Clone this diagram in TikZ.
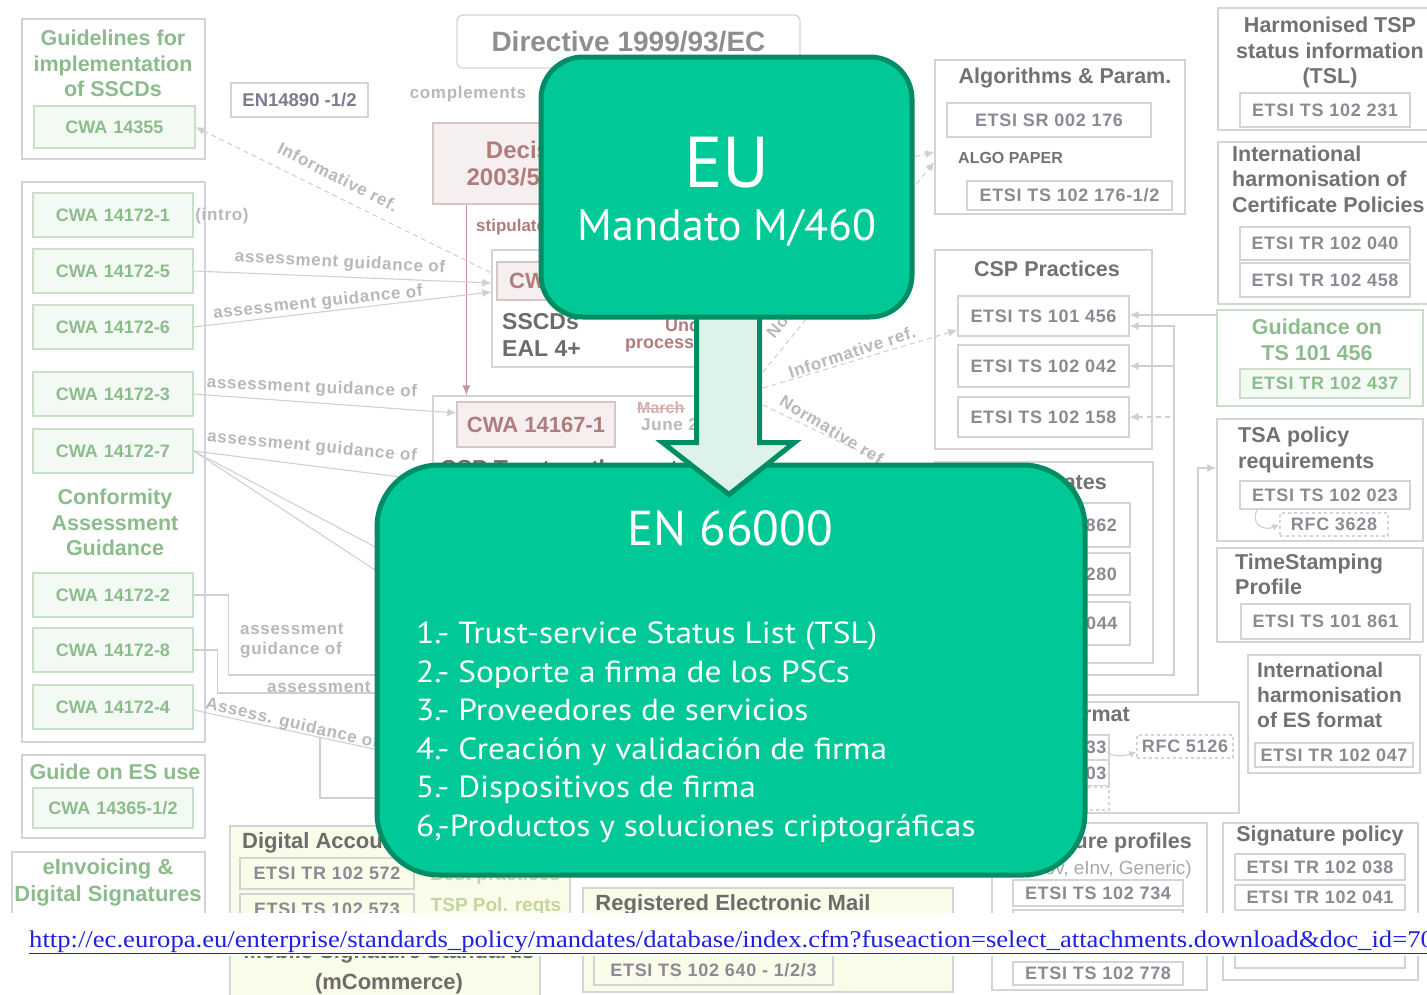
\documentclass[tikz,border=0pt]{standalone}
\usepackage{fontspec}
\usepackage{graphicx}
\setmainfont{Liberation Sans}
\newfontfamily\etsifont[LetterSpace=4]{Liberation Sans}
\newfontfamily\ovfont{PT Sans}
\newfontfamily\urlfont{Liberation Serif}
\usetikzlibrary{arrows.meta,calc}
\newcommand\fsz[2]{\fontsize{#1}{#2}\selectfont}
\newcommand\cw{CWA\hspace{6pt}}
\newcommand\wide[1]{\scalebox{1.095}[1]{#1}}

\definecolor{boxline}{HTML}{D4D4D4}
\definecolor{linkline}{HTML}{D0D0D0}
\definecolor{darktxt}{HTML}{6C6C6C}
\definecolor{ttltxt}{HTML}{727272}
\definecolor{txtmid}{HTML}{8A8A94}
\definecolor{txtlight}{HTML}{B8B8B8}
\definecolor{sptxt}{HTML}{A8A8A8}
\definecolor{dirtxt}{HTML}{8E8E8E}
\definecolor{enblue}{HTML}{7C7C90}
\definecolor{grntxt}{HTML}{8CBC8C}
\definecolor{grnline}{HTML}{C9DFC9}
\definecolor{grnfill}{HTML}{F3FAF3}
\definecolor{redtxt}{HTML}{B27C7C}
\definecolor{redbox}{HTML}{D8C6C6}
\definecolor{redfill}{HTML}{F5EFEF}
\definecolor{redln}{HTML}{C8959A}
\definecolor{strktxt}{HTML}{D4AFAF}
\definecolor{olvtxt}{HTML}{C4D6A0}
\definecolor{yelfill}{HTML}{FBFBE9}
\definecolor{euFill}{HTML}{00C896}
\definecolor{euEdge}{HTML}{008C64}
\definecolor{arrowFill}{HTML}{DDF2E8}
\definecolor{urlblue}{HTML}{2020E0}

\pgfdeclarelayer{mid}
\pgfdeclarelayer{top}
\pgfsetlayers{main,mid,top}

\begin{document}
\begin{tikzpicture}[x=1pt,y=-1pt,
  grp/.style={draw=boxline, line width=1.3pt, fill=white, inner sep=0pt},
  etsi/.style={draw=boxline, line width=1.2pt, fill=white, inner sep=0pt, text=txtmid, font=\etsifont\bfseries\fsz{18}{20}},
  cwabox/.style={draw=grnline, line width=1.3pt, fill=grnfill, inner sep=0pt, text=grntxt, font=\bfseries\fsz{18}{20}, minimum width=160pt, minimum height=44pt},
  ttl/.style={text=ttltxt, font=\bfseries\fsz{21.5}{25.5}, inner sep=0pt},
  gttl/.style={text=grntxt, font=\bfseries\fsz{21.5}{25.5}, inner sep=0pt, align=center},
  note/.style={text=txtlight, font=\etsifont\bfseries\fsz{17}{20}, inner sep=0pt},
  rtxt/.style={text=redtxt, inner sep=0pt},
  dtxt/.style={text=darktxt, inner sep=0pt},
  olv/.style={text=olvtxt, font=\bfseries\fsz{19}{22}, inner sep=0pt},
  lnk/.style={draw=linkline, line width=1.1pt},
  dlnk/.style={lnk, dash pattern=on 5pt off 4pt},
  endtip/.style={-{Latex[length=9pt,width=8pt]}},
  starttip/.style={{Latex[length=9pt,width=8pt]}-},
  ovbox/.style={draw=euEdge, line width=5pt, fill=euFill, inner sep=0pt},
  ovtxt/.style={text=white, inner sep=0pt},
  listline/.style={ovtxt, anchor=base west, font=\ovfont\fsz{30.5}{36}}
]
\useasboundingbox (0,0) rectangle (1427,994);
\clip (0,0) rectangle (1427,994);

% ---------- left column: CEN workshop agreements ----------
\node[grp, minimum width=183pt, minimum height=140pt] (gSSCD) at (113.5,89) {};
\node[gttl] (tSSCD) at (113,63.5) {Guidelines for\\implementation\\of SSCDs};
\node[cwabox, minimum width=161pt, minimum height=42pt] (cwa14355) at (114.5,127) {\cw 14355};

\node[grp, minimum width=183pt, minimum height=560pt] (gCWA) at (113.5,462) {};
\node[cwabox] (c1) at (113,215) {\cw 14172-1};
\node[cwabox] (c5) at (113,271) {\cw 14172-5};
\node[cwabox] (c6) at (113,327) {\cw 14172-6};
\node[cwabox] (c3) at (113,394) {\cw 14172-3};
\node[cwabox] (c7) at (113,451) {\cw 14172-7};
\node[gttl] (tConf) at (115,522.5) {Conformity\\Assessment\\Guidance};
\node[cwabox] (c2) at (113,595) {\cw 14172-2};
\node[cwabox] (c8) at (113,650) {\cw 14172-8};
\node[cwabox] (c4) at (113,707) {\cw 14172-4};
\node[note] (intro) at (222,216) {(intro)};

\node[grp, minimum width=183pt, minimum height=83pt] (gGuide) at (113.5,796.5) {};
\node[gttl] (tGuide) at (115,772) {Guide on ES use};
\node[cwabox, minimum height=40pt] (cwa14365) at (113,808) {\cw 14365-1/2};

\node[grp, minimum width=193pt, minimum height=90pt] (gInv) at (108.5,897) {};
\node[gttl, font=\bfseries\fsz{22}{27}] (tInv) at (108,882.5) {eInvoicing \&\\Digital Signatures};

% ---------- top middle: directive and decision ----------
\node[etsi, text=enblue, font=\bfseries\fsz{18.5}{20}, minimum width=137pt, minimum height=34pt] (en14890) at (299.5,100) {EN14890 -1/2};
\node[note] (compl) at (468,94) {complements};
\node[grp, rounded corners=6pt, minimum width=343pt, minimum height=53pt, text=dirtxt, font=\bfseries\fsz{28}{30}] (directive) at (628.5,41.5) {Directive 1999/93/EC};

\node[grp, fill=redfill, draw=redbox, minimum width=227pt, minimum height=81pt] (decision) at (546.5,163.5) {};
\node[rtxt, align=center, font=\bfseries\fsz{24}{27}] (tDec) at (536,163.5) {Decision\\2003/511/EC};
\node[rtxt, anchor=west, font=\bfseries\fsz{17}{20}] (stip) at (476,227) {stipulates};

\node[grp, minimum width=248pt, minimum height=117pt] (gEAL) at (616,308.5) {};
\node[grp, fill=redfill, draw=redbox, minimum width=143pt, minimum height=38pt, text=redtxt, font=\bfseries\fsz{22}{24}] (cwa14169) at (568.5,281) {CWA 14169};
\node[dtxt, anchor=west, align=left, font=\bfseries\fsz{23}{27}] (tEAL) at (502,334.5) {SSCDs\\EAL 4+};
\node[rtxt, anchor=west, font=\bfseries\fsz{18}{20}] (tUnder) at (665,325) {Under};
\node[rtxt, anchor=west, font=\bfseries\fsz{18}{20}] (tProc) at (625,346) {process};

\node[grp, minimum width=307pt, minimum height=124pt] (g14167) at (586.5,458) {};
\node[grp, fill=redfill, draw=redbox, minimum width=158pt, minimum height=45pt, text=redtxt, font=\bfseries\fsz{22}{24}] (cwa14167) at (536,424.5) {CWA 14167-1};
\node[anchor=west, inner sep=0pt, text=strktxt, font=\bfseries\fsz{16}{18}] (tMarch) at (637,408) {March};
\draw[strktxt, line width=1pt] (tMarch.west) -- (tMarch.east);
\node[note, anchor=west] (tJune) at (641,425) {June 2};
\node[dtxt, anchor=west, font=\bfseries\fsz{23}{26}] (tCSPts) at (440,471) {CSP Trustworthy systems};

\draw[draw=redln, line width=1.2pt, -{Latex[length=10pt,width=8pt]}] ([xshift=34pt]decision.south west) -- ([xshift=34pt]g14167.north west);

% ---------- links from the CWA column ----------
\draw[dlnk, starttip] (cwa14355.east) -- (gEAL.west |- 0,273);
\node[note, rotate=-27] (lInf1) at (338,177) {Informative ref.};
\draw[lnk, endtip] (c5.east) -- (gEAL.west |- 0,283);
\node[note, rotate=-3] (l5) at (340,263) {assessment guidance of};
\draw[lnk, endtip] (c6.east) -- (gEAL.west |- 0,292);
\node[note, rotate=6] (l6) at (318,303) {assessment guidance of};
\draw[lnk, endtip] (c3.east) -- (cwa14167.west |- 0,413);
\node[note, rotate=-2.5] (l3) at (312,388) {assessment guidance of};
\draw[lnk] (c7.east) -- (g14167.west |- 0,481);
\node[note, rotate=-5.5] (l7) at (312,447) {assessment guidance of};
\coordinate (fanA) at (430,576);
\coordinate (fanB) at (430,606);
\draw[lnk] (c7.east) -- (fanA);
\draw[lnk] (c7.east) -- (fanB);
\coordinate (c2end) at (420,675);
\draw[lnk] (c2.east) -- ++(35,0) |- (c2end);
\node[note, align=left, anchor=west] (l2) at (240,640.5) {assessment\\guidance of};
\coordinate (c8end) at (420,693);
\draw[lnk] (c8.east) -- ++(24,0) |- (c8end);
\node[note, anchor=west] (l8) at (267,687) {assessment};
\coordinate (a4end) at (420,759);
\coordinate (a4knee) at (320,738);
\coordinate (a4end2) at (420,798);
\draw[lnk] ([yshift=-3pt]c4.east) -- (a4end);
\draw[lnk] (a4knee) |- (a4end2);
\node[note, rotate=-13] (l4) at (292,724) {Assess. guidance of};

% ---------- middle right: ETSI groups ----------
\node[grp, minimum width=250pt, minimum height=154pt] (gAlgo) at (1060,137) {};
\node[ttl] (tAlgo) at (1065,78) {Algorithms \& Param.};
\node[etsi, minimum width=204pt, minimum height=34pt] (sr002176) at (1049,120) {ETSI SR 002 176};
\node[ttl, anchor=west, font=\bfseries\fsz{16}{18}] (tAlgoP) at (958,158) {ALGO PAPER};
\node[etsi, minimum width=205pt, minimum height=29pt] (ts102176) at (1069.5,195.5) {ETSI TS 102 176-1/2};

\node[grp, minimum width=217pt, minimum height=199pt] (gCSP) at (1043.5,349.5) {};
\node[ttl] (tCSP) at (1047,269) {CSP Practices};
\node[etsi, minimum width=171pt, minimum height=40pt] (ts101456) at (1043.5,316) {ETSI TS 101 456};
\node[etsi, minimum width=171pt, minimum height=42pt] (ts102042) at (1043.5,366) {ETSI TS 102 042};
\node[etsi, minimum width=171pt, minimum height=40pt] (ts102158) at (1043.5,417) {ETSI TS 102 158};

\node[grp, minimum width=218pt, minimum height=201pt] (gCert) at (1044,562.5) {};
\node[ttl, anchor=east] (tCert) at (1107,482) {Certificates};
\node[etsi, minimum width=172pt, minimum height=44pt] (ts101862) at (1044,525) {ETSI TS 101 862};
\node[etsi, minimum width=172pt, minimum height=42pt] (ts102280) at (1044,574) {ETSI TS 102 280};
\node[etsi, minimum width=172pt, minimum height=43pt] (tr102044) at (1044,623.5) {ETSI TR 102 044};

\node[grp, minimum width=304pt, minimum height=111pt] (gFmt) at (1087,757.5) {};
\node[ttl, anchor=east] (tFmt) at (1130,716) {Signature format};
\node[etsi, minimum width=151pt, minimum height=25pt] (ts101733) at (1033.5,747.5) {ETSI TS 101 733};
\node[etsi, minimum width=151pt, minimum height=25pt] (ts101903) at (1033.5,773) {ETSI TS 101 903};
\node[etsi, dashed, minimum width=151pt, minimum height=23pt] (fmtx) at (1033.5,798.5) {};
\node[etsi, dashed, minimum width=96pt, minimum height=23pt] (rfc5126) at (1185,746.5) {RFC 5126};
\draw[lnk, -{Latex[length=7pt,width=7pt]}] ([yshift=-4pt]ts101733.east) .. controls (1103,752) and (1116,759) .. (rfc5126.west |- 0,752);

\node[grp, minimum width=215pt, minimum height=167pt] (gSP) at (1099.5,906.5) {};
\node[ttl, anchor=east] (tSP) at (1192,843) {Signature profiles};
\node[inner sep=0pt, text=sptxt, font=\fsz{19}{22}, anchor=east] (tSPsub) at (1192,870) {(Gov, eInv, Generic)};
\node[etsi, minimum width=170pt, minimum height=26pt] (ts102734) at (1098,893) {ETSI TS 102 734};
\node[etsi, minimum width=170pt, minimum height=30pt] (spx) at (1098,925) {};
\node[etsi, minimum width=170pt, minimum height=23pt] (ts102778) at (1098,973.5) {ETSI TS 102 778};

% ---------- right column ----------
\node[grp, minimum width=222pt, minimum height=122pt] (gTSL) at (1329,69) {};
\node[ttl, align=center] (tTSL) at (1330,52.5) {Harmonised TSP\\status information\\(TSL)};
\node[etsi, minimum width=170pt, minimum height=34pt] (ts102231) at (1325,110) {ETSI TS 102 231};

\node[grp, minimum width=222pt, minimum height=162pt] (gICP) at (1329,223) {};
\node[ttl, align=left, anchor=west] (tICP) at (1232,179) {International\\harmonisation of\\Certificate Policies};
\node[etsi, minimum width=170pt, minimum height=33pt] (tr102040) at (1325,243.5) {ETSI TR 102 040};
\node[etsi, minimum width=170pt, minimum height=34pt] (tr102458) at (1325,280) {ETSI TR 102 458};

\node[grp, draw=grnline, minimum width=206pt, minimum height=96pt] (gGuid) at (1320,358) {};
\node[gttl] (tGuid) at (1317,340) {Guidance on\\TS 101 456};
\node[etsi, draw=grnline, fill=grnfill, text=grntxt, minimum width=170pt, minimum height=29pt] (tr102437) at (1325,383.5) {ETSI TR 102 437};

\node[grp, minimum width=206pt, minimum height=122pt] (gTSA) at (1320,480) {};
\node[ttl, align=left, anchor=west] (tTSA) at (1238,450) {TSA policy\\requirements};
\node[etsi, minimum width=170pt, minimum height=28pt] (ts102023) at (1325,495) {ETSI TS 102 023};
\node[etsi, dashed, minimum width=108pt, minimum height=23pt] (rfc3628) at (1334,524.5) {RFC 3628};
\draw[lnk, -{Latex[length=7pt,width=7pt]}] ([xshift=18pt]ts102023.south west) .. controls (1250,522) and (1262,532) .. (rfc3628.west);

\node[grp, minimum width=206pt, minimum height=94pt] (gTS) at (1320,595) {};
\node[ttl, align=left, anchor=west] (tTS) at (1235,574.5) {TimeStamping\\Profile};
\node[etsi, minimum width=169pt, minimum height=35pt] (ts101861) at (1325.5,621.5) {ETSI TS 101 861};

\node[grp, minimum width=172pt, minimum height=118pt] (gESF) at (1334,714) {};
\node[ttl, align=left, anchor=west, font=\bfseries\fsz{21}{25}] (tESF) at (1257,695) {International\\harmonisation\\of ES format};
\node[etsi, minimum width=158pt, minimum height=24pt] (tr102047) at (1334,755) {ETSI TR 102 047};

\node[grp, minimum width=195pt, minimum height=157pt] (gSigPol) at (1320.5,901.5) {};
\node[ttl] (tSigPol) at (1320,836) {Signature policy};
\node[etsi, minimum width=170pt, minimum height=26pt] (tr102038) at (1320,867) {ETSI TR 102 038};
\node[etsi, minimum width=170pt, minimum height=25pt] (tr102041) at (1320,897.5) {ETSI TR 102 041};
\node[etsi, minimum width=170pt, minimum height=28pt] (spolx) at (1320,954) {};

% ---------- right-hand links ----------
\coordinate (busA) at (1060,675);
\coordinate (busB) at (1060,695);
\draw[lnk, endtip] (gGuid.west |- 0,315) -- (ts101456.east |- 0,315);
\draw[lnk, starttip] (ts101456.east |- 0,326) -- (1174,326) -- (1174,675) -- (busA);
\draw[lnk, starttip] (ts102042.east) -- (1174,366);
\draw[dlnk, starttip] (ts102158.east) -- (1174,417);
\draw[lnk, endtip] (busB) -- (1198,695) -- (1198,468) -- (gTSA.west |- 0,468);

\coordinate (src1) at (763,388);
\coordinate (src2) at (763,405);
\coordinate (src3) at (763,372);
\coordinate (src4) at (880,165);
\draw[dlnk, endtip] (src1) -- (ts101456.west |- 0,330);
\draw[dlnk, endtip] (src2) -- (gCert.west |- 0,487);
\draw[dlnk, endtip] (src3) -- (gAlgo.west |- 0,162);
\draw[dlnk, endtip] (src4) -- (gAlgo.west |- 0,152);
\node[note, rotate=18] (lInf2) at (852,352) {Informative ref.};
\node[note, rotate=-31] (lNorm2) at (834,431) {Normative ref.};
\node[note, rotate=50] (lNorm1) at (809,289) {Normative ref.};

% ---------- bottom row ----------
\node[grp, fill=yelfill, minimum width=340pt, minimum height=110pt] (gAcc) at (400,881) {};
\node[dtxt, anchor=west, font=\bfseries\fsz{22}{24}] (tAcc) at (242,843) {Digital Accounting};
\node[etsi, fill=yelfill, minimum width=174pt, minimum height=31pt] (tr102572) at (327,873.5) {ETSI TR 102 572};
\node[etsi, fill=yelfill, minimum width=174pt, minimum height=31pt] (ts102573) at (327,909.5) {ETSI TS 102 573};
\node[olv] (tBest) at (495,876) {Best practices};
\node[olv] (tTSPpol) at (496,907) {TSP Pol. reqts};

\node[grp, fill=yelfill, minimum width=310pt, minimum height=70pt] (gMob) at (385,980) {};
\node[dtxt, align=center, font=\bfseries\fsz{22}{31}] (tMob) at (389,968.5) {Mobile Signature Standards\\(mCommerce)};

\node[grp, fill=yelfill, minimum width=370pt, minimum height=104pt] (gREM) at (768,940) {};
\node[dtxt, font=\bfseries\fsz{22}{24}] (tREM) at (733,905) {Registered Electronic Mail};
\node[etsi, fill=yelfill, minimum width=239pt, minimum height=30pt] (ts102640) at (713.5,970) {ETSI TS 102 640 - 1/2/3};

% ---------- source link strip ----------
\fill[white] (0,913) rectangle (1427,956);
\node[anchor=base west, inner sep=0pt, text=urlblue, font=\urlfont\fsz{24}{26}] (url) at (29,947) {\scalebox{1.11}[1]{\underline{http://ec.europa.eu/enterprise/standards\_policy/mandates/database/index.cfm?fuseaction=select\_attachments.download\&doc\_id=709}}};

% ---------- EN 66000 panel ----------
\node[ovbox, rounded corners=62pt, minimum width=708pt, minimum height=410pt] (en) at (731,670) {};
\node[ovtxt, font=\ovfont\fsz{49}{56}] (tEN) at (730,528) {EN 66000};
\node[listline] (li1) at (416,643.5) {\wide{1.- Trust-service Status List (TSL)}};
\node[listline] (li2) at (416,682) {\wide{2.- Soporte a firma de los PSCs}};
\node[listline] (li3) at (416,720.5) {\wide{3.- Proveedores de servicios}};
\node[listline] (li4) at (416,759) {\wide{4.- Creación y validación de firma}};
\node[listline] (li5) at (416,797.5) {\wide{5.- Dispositivos de firma}};
\node[listline] (li6) at (416,836) {\wide{6,-Productos y soluciones criptográficas}};

% ---------- EU mandate panel and its arrow ----------
\begin{pgfonlayer}{top}
\node[ovbox, rounded corners=42pt, minimum width=371pt, minimum height=260pt] (eu) at (726.5,187) {};
\node[ovtxt, font=\ovfont\fsz{72}{80}] (tEU) at (727,163) {EU};
\node[ovtxt, font=\ovfont\fsz{44}{50}] (tM460) at (727,228) {Mandato M/460};
\end{pgfonlayer}
\begin{pgfonlayer}{mid}
\draw[draw=euEdge, line width=5pt, fill=arrowFill, line join=miter]
  ($(eu.south)+(-30,-6)$) -- ($(eu.south)+(33,-6)$) -- ($(eu.south)+(33,123)$)
  -- ($(eu.south)+(68,123)$) -- ($(en.north)+(-2,32)$) -- ($(eu.south)+(-64,123)$)
  -- ($(eu.south)+(-30,123)$) -- cycle;
\end{pgfonlayer}
\end{tikzpicture}
\end{document}
